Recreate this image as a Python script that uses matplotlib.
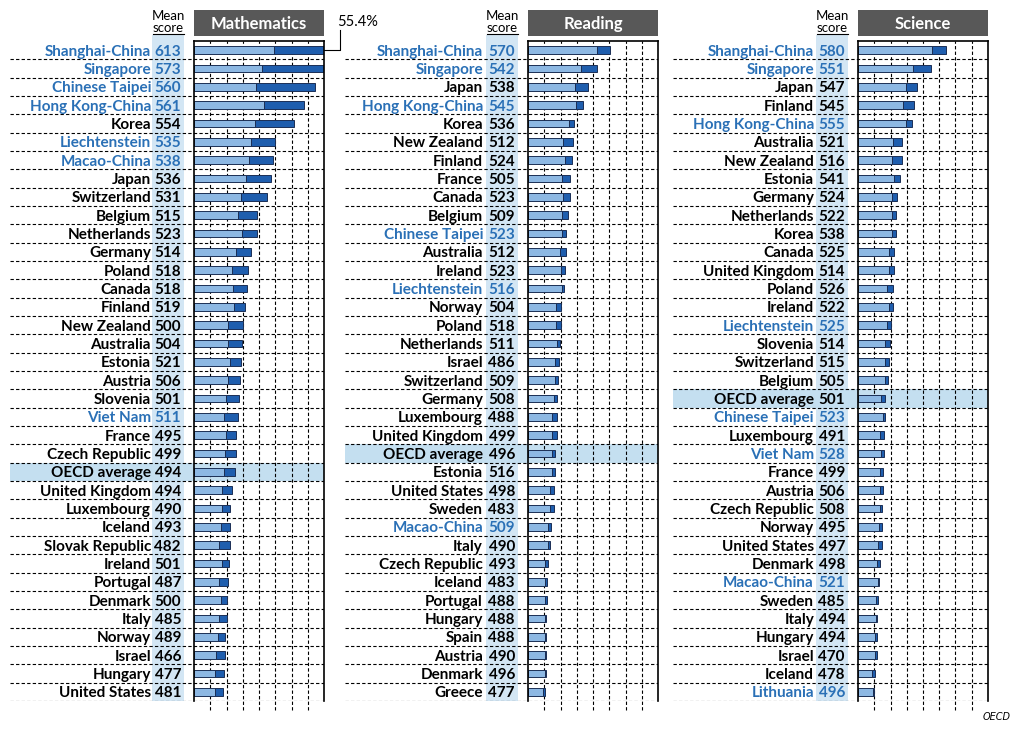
import numpy as np
import matplotlib
matplotlib.use("Agg")
import matplotlib.pyplot as plt
from matplotlib.patches import Rectangle
from matplotlib.lines import Line2D

W, H = 1031, 740
LIGHT = "#8db8e3"
DARK = "#1f5eae"
BLUE_TXT = "#2a70b6"
COL_BG = "#d3e6f4"
HL_BG = "#c4dff0"
FONT = ["Lato", "DejaVu Sans"]

PARTNERS = {"Shanghai-China", "Singapore", "Chinese Taipei", "Hong Kong-China",
            "Liechtenstein", "Macao-China", "Viet Nam", "Lithuania"}

# ---- Mathematics ----
math_c = ["Shanghai-China", "Singapore", "Chinese Taipei", "Hong Kong-China", "Korea",
          "Liechtenstein", "Macao-China", "Japan", "Switzerland", "Belgium", "Netherlands",
          "Germany", "Poland", "Canada", "Finland", "New Zealand", "Australia", "Estonia",
          "Austria", "Slovenia", "Viet Nam", "France", "Czech Republic", "OECD average",
          "United Kingdom", "Luxembourg", "Iceland", "Slovak Republic", "Ireland", "Portugal",
          "Denmark", "Italy", "Norway", "Israel", "Hungary", "United States"]
math_s = [613, 573, 560, 561, 554, 535, 538, 536, 531, 515, 523, 514, 518, 518, 519, 500,
          504, 521, 506, 501, 511, 495, 499, 494, 494, 490, 493, 482, 501, 487, 500, 485,
          489, 466, 477, 481]
math_l5 = [24.6, 21.0, 19.2, 21.4, 18.8, 17.5, 16.8, 16.0, 14.6, 13.4, 14.9, 12.8, 11.7,
           12.1, 12.3, 10.5, 10.5, 11.0, 10.5, 9.8, 9.3, 9.8, 9.6, 9.3, 8.7, 8.5, 8.2, 7.8,
           8.5, 7.8, 8.3, 7.8, 7.3, 6.7, 6.6, 6.6]
math_l6 = [30.8, 19.0, 18.0, 12.3, 12.1, 7.4, 7.6, 7.6, 7.8, 6.1, 4.4, 4.7, 5.0, 4.3, 3.5,
           4.5, 4.3, 3.6, 3.8, 3.9, 4.2, 3.1, 3.2, 3.3, 3.1, 2.6, 3.0, 3.2, 2.2, 2.8, 1.7,
           2.2, 2.1, 2.7, 2.7, 2.2]

# ---- Reading ----
read_c = ["Shanghai-China", "Singapore", "Japan", "Hong Kong-China", "Korea", "New Zealand",
          "Finland", "France", "Canada", "Belgium", "Chinese Taipei", "Australia", "Ireland",
          "Liechtenstein", "Norway", "Poland", "Netherlands", "Israel", "Switzerland",
          "Germany", "Luxembourg", "United Kingdom", "OECD average", "Estonia",
          "United States", "Sweden", "Macao-China", "Italy", "Czech Republic", "Iceland",
          "Portugal", "Hungary", "Spain", "Austria", "Denmark", "Greece"]
read_s = [570, 542, 538, 545, 536, 512, 524, 505, 523, 509, 523, 512, 523, 516, 504, 518,
          511, 486, 509, 508, 488, 499, 496, 516, 498, 483, 509, 490, 493, 483, 488, 488,
          488, 490, 496, 477]
read_l5 = [21.3, 16.2, 14.6, 14.9, 12.6, 10.9, 11.3, 10.6, 10.8, 10.5, 10.4, 9.8, 10.1,
           10.4, 8.6, 8.6, 9.0, 8.2, 8.2, 8.0, 7.5, 7.5, 7.3, 7.5, 6.9, 6.7, 6.0, 6.0, 5.1,
           5.1, 5.3, 5.1, 5.1, 5.1, 5.1, 4.5]
read_l6 = [3.8, 5.0, 3.9, 1.9, 1.6, 3.0, 2.2, 2.3, 2.1, 1.9, 1.4, 1.9, 1.3, 0.7, 1.6, 1.4,
           0.8, 1.4, 0.9, 0.9, 1.3, 1.3, 1.1, 0.8, 1.0, 1.2, 1.0, 0.7, 1.0, 0.7, 0.5, 0.5,
           0.4, 0.4, 0.3, 0.6]

# ---- Science ----
sci_c = ["Shanghai-China", "Singapore", "Japan", "Finland", "Hong Kong-China", "Australia",
         "New Zealand", "Estonia", "Germany", "Netherlands", "Korea", "Canada",
         "United Kingdom", "Poland", "Ireland", "Liechtenstein", "Slovenia", "Switzerland",
         "Belgium", "OECD average", "Chinese Taipei", "Luxembourg", "Viet Nam", "France",
         "Austria", "Czech Republic", "Norway", "United States", "Denmark", "Macao-China",
         "Sweden", "Italy", "Hungary", "Israel", "Iceland", "Lithuania"]
sci_s = [580, 551, 547, 545, 555, 521, 516, 541, 524, 522, 538, 525, 514, 526, 522, 525,
         514, 515, 505, 501, 523, 491, 528, 499, 506, 508, 495, 497, 498, 521, 485, 494,
         494, 470, 478, 496]
sci_l5 = [22.8, 17.0, 14.8, 13.9, 14.8, 10.9, 10.6, 11.1, 10.5, 10.4, 10.5, 9.4, 9.4, 8.9,
          9.4, 8.9, 8.4, 8.4, 8.2, 7.2, 7.7, 6.8, 7.1, 6.8, 6.8, 6.8, 6.4, 6.2, 5.8, 6.2,
          5.5, 5.5, 5.1, 5.1, 4.3, 4.6]
sci_l6 = [4.4, 5.6, 3.4, 3.2, 1.9, 2.7, 2.8, 1.7, 1.6, 1.4, 1.2, 1.8, 1.8, 1.9, 1.5, 1.3,
          1.3, 1.0, 1.0, 1.2, 0.7, 1.3, 1.0, 1.0, 1.0, 0.7, 1.0, 1.2, 1.0, 0.4, 0.8, 0.4,
          0.8, 0.8, 0.9, 0.4]

subjects = ["Mathematics", "Reading", "Science"]
# pixel layout: line_left, name_right, col_left, col_right, score_right, panel_left, panel_right
LAYOUT = [(10, 152, 152, 184, 181, 194, 324),
          (345, 484, 486, 518, 515, 528, 658),
          (673, 815, 816, 848, 845, 858, 988)]
DATA = [(math_c, math_s, math_l5, math_l6),
        (read_c, read_s, read_l5, read_l6),
        (sci_c, sci_s, sci_l5, sci_l6)]

TOP, BOT = 41, 701
XMAX = 40

fig = plt.figure(figsize=(W / 100, H / 100), dpi=100)
fig.patch.set_facecolor("white")

for subj, lay, (cn, sc, l5, l6) in zip(subjects, LAYOUT, DATA):
    ll, nr, cl, cr, sr, pl, pr = lay
    n = len(cn)
    y = np.arange(n)
    b = (H - BOT) / H
    h = (BOT - TOP) / H

    # background: score column, OECD row, row separators, labels
    bg = fig.add_axes([ll / W, b, (pr - ll) / W, h])
    bg.set_xlim(ll, pr); bg.set_ylim(n - 0.5, -0.5); bg.axis("off")
    rpx = (BOT - TOP) / n
    bg.add_patch(Rectangle((cl, -0.5 - 6 / rpx), cr - cl, n + 6 / rpx, color=COL_BG,
                           clip_on=False, zorder=0, lw=0))
    for i, c in enumerate(cn):
        if c == "OECD average":
            bg.add_patch(Rectangle((ll, i - 0.5), pr - ll, 1, color=HL_BG, lw=0, zorder=0.5))
    bg.hlines(y + 0.5, ll, pr, colors="black", linestyles=(0, (3, 2)), lw=0.8, zorder=1)
    for i, (c, s) in enumerate(zip(cn, sc)):
        col = BLUE_TXT if c in PARTNERS else "black"
        bg.text(nr - 1, i, c, ha="right", va="center_baseline", fontsize=11,
                fontweight="bold", color=col, family=FONT, zorder=3)
        bg.text(sr, i, str(s), ha="right", va="center_baseline", fontsize=11,
                fontweight="bold", color=col, family=FONT, zorder=3)

    # bar panel
    ax = fig.add_axes([pl / W, b, (pr - pl) / W, h])
    ax.patch.set_alpha(0)
    ax.set_xlim(0, XMAX); ax.set_ylim(n - 0.5, -0.5)
    ax.set_xticks([]); ax.set_yticks([])
    for k in np.arange(5, XMAX, 5):
        ax.plot([k, k], [n, -0.5], color="black", ls=(0, (3, 2)), lw=0.8,
                clip_on=False, zorder=1)
    ax.barh(y, l5, height=0.42, color=LIGHT, edgecolor="#1b2f55", lw=0.7, zorder=2)
    ax.barh(y, l6, left=l5, height=0.42, color=DARK, edgecolor="#1b2f55", lw=0.7, zorder=2)
    ax.spines["bottom"].set_visible(False)
    for s in ("top", "left", "right"):
        ax.spines[s].set_linewidth(1.2)

    # title box and header
    fig.patches.append(Rectangle((pl / W, 1 - 36 / H), (pr - pl) / W, 26 / H,
                                 transform=fig.transFigure, color="#585858", lw=0))
    fig.text((pl + pr) / 2 / W, 1 - 24 / H, subj, ha="center", va="center",
             color="white", fontsize=12, fontweight="bold", family=FONT)
    cx = (cl + cr) / 2 / W
    fig.text(cx, 1 - 16 / H, "Mean", ha="center", va="center", fontsize=9.5, family=FONT)
    fig.text(cx, 1 - 28.5 / H, "score", ha="center", va="center", fontsize=9.5, family=FONT)
    fig.lines.append(Line2D([cl / W + 0.001, cr / W], [1 - 34 / H, 1 - 34 / H],
                            transform=fig.transFigure, color="black", lw=0.8))

# leader for clipped Shanghai maths bar
tot = math_l5[0] + math_l6[0]
fig.lines.append(Line2D([324 / W, 340 / W, 340 / W], [1 - 50 / H, 1 - 50 / H, 1 - 30 / H],
                        transform=fig.transFigure, color="black", lw=0.8))
fig.text(337 / W, 1 - 22 / H, f"{tot:.1f}%", ha="left", va="center", fontsize=10.5,
         family=FONT)

fig.text(1011 / W, 1 - 717 / H, "OECD", ha="right", va="center", fontsize=7,
         style="italic", family=["DejaVu Sans"])

fig.savefig("out.png", dpi=100)
